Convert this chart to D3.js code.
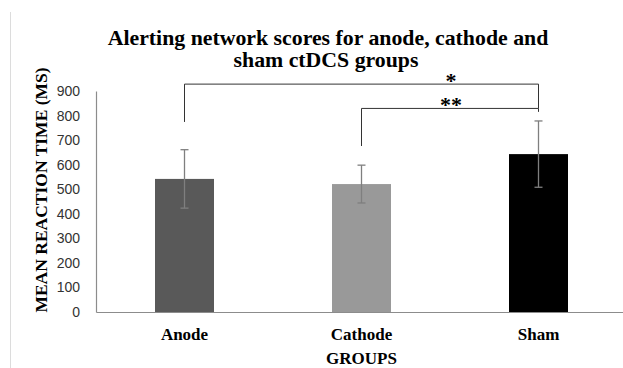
<!DOCTYPE html>
<html><head><meta charset="utf-8">
<script src="https://cdn.jsdelivr.net/npm/d3@7"></script>
<style>body{margin:0;background:#fff}svg{display:block}</style>
</head><body>
<svg id="c" width="623" height="368"></svg>
<script>
const categories = ["Anode", "Cathode", "Sham"];
const means = [542, 521, 643];
const sds = [119, 77, 135];
const barColors = ["#595959", "#999999", "#000000"];
const yTicks = [0, 100, 200, 300, 400, 500, 600, 700, 800, 900];
const sigFrom = ["Anode", "Cathode"];
const sigTo = ["Sham", "Sham"];
const sigLabels = ["*", "**"];
const sigLevels = [928, 829];
const sigLegFrom = [774, 676];
const sigLegTo = [829, 815];

const svg = d3.select("#c");
const m = {l: 96, t: 91, b: 312};
const x = d3.scaleBand().domain(categories).range([m.l, m.l + 3 * 177]).paddingInner(2/3).paddingOuter(1/3);
const y = d3.scaleLinear().domain([0, 900]).range([m.b, m.t]);
const serif = "Liberation Serif, Times New Roman, serif";

// left page border
svg.append("line").attr("x1", 10.5).attr("x2", 10.5).attr("y1", 12).attr("y2", 368).attr("stroke", "#dcdcdc").attr("stroke-width", 1);

// title
const title = svg.append("text").attr("text-anchor", "middle")
  .attr("font-family", serif).attr("font-weight", "bold").attr("font-size", 21.8).attr("fill", "#000");
title.append("tspan").attr("x", 328).attr("y", 45).text("Alerting network scores for anode, cathode and");
title.append("tspan").attr("x", 326).attr("y", 67).text("sham ctDCS groups");

// y axis
const yAxis = d3.axisLeft(y).tickValues(yTicks).tickSize(0).tickPadding(16).tickFormat(d3.format("d"));
const gy = svg.append("g").attr("transform", `translate(${m.l},0)`).call(yAxis);
gy.select(".domain").attr("stroke", "#8c8c8c").attr("stroke-width", 1.2);
gy.selectAll("text").attr("font-family", "Liberation Sans, Arial, sans-serif").attr("font-size", 14).attr("fill", "#333");

// bars
svg.selectAll("rect.bar").data(categories).join("rect").attr("class", "bar")
  .attr("x", d => x(d)).attr("width", x.bandwidth())
  .attr("y", (d, i) => y(means[i])).attr("height", (d, i) => y(0) - y(means[i]))
  .attr("fill", (d, i) => barColors[i]);

// x axis
const xAxis = d3.axisBottom(x).tickSize(0).tickPadding(16);
const gx = svg.append("g").attr("transform", `translate(0,${m.b})`).call(xAxis);
gx.select(".domain").attr("stroke", "#8c8c8c").attr("stroke-width", 1.2);
gx.selectAll("text").attr("font-family", serif).attr("font-weight", "bold").attr("font-size", 17).attr("fill", "#000");

// error bars
const eb = svg.append("g").attr("stroke", "#7f7f7f").attr("stroke-width", 1.3);
categories.forEach((c, i) => {
  const cx = x(c) + x.bandwidth() / 2;
  eb.append("line").attr("x1", cx).attr("x2", cx).attr("y1", y(means[i] + sds[i])).attr("y2", y(means[i] - sds[i]));
  eb.append("line").attr("x1", cx - 4).attr("x2", cx + 4).attr("y1", y(means[i] + sds[i])).attr("y2", y(means[i] + sds[i]));
  eb.append("line").attr("x1", cx - 4).attr("x2", cx + 4).attr("y1", y(means[i] - sds[i])).attr("y2", y(means[i] - sds[i]));
});

// significance brackets
const sg = svg.append("g");
sigFrom.forEach((f, i) => {
  const x1 = x(f) + x.bandwidth() / 2, x2 = x(sigTo[i]) + x.bandwidth() / 2;
  const yl = y(sigLevels[i]);
  sg.append("path").attr("fill", "none").attr("stroke", "#333").attr("stroke-width", 1)
    .attr("d", `M${x1},${y(sigLegFrom[i])}V${yl}H${x2}V${y(sigLegTo[i])}`);
  const mid = (x(categories[1]) + x(categories[2])) / 2 + x.bandwidth() / 2;
  sg.append("text").attr("x", mid + 1).attr("y", yl + 4).attr("text-anchor", "middle")
    .attr("font-family", serif).attr("font-weight", "bold").attr("font-size", 22)
    .text(sigLabels[i]);
});

// axis titles
svg.append("text").attr("x", x(categories[1]) + x.bandwidth() / 2).attr("y", 364).attr("text-anchor", "middle")
  .attr("font-family", serif).attr("font-weight", "bold").attr("font-size", 17).text("GROUPS");
svg.append("text").attr("transform", "translate(47,190) rotate(-90)").attr("text-anchor", "middle")
  .attr("font-family", serif).attr("font-weight", "bold").attr("font-size", 17.5).text("MEAN REACTION TIME (MS)");
</script>
</body></html>
